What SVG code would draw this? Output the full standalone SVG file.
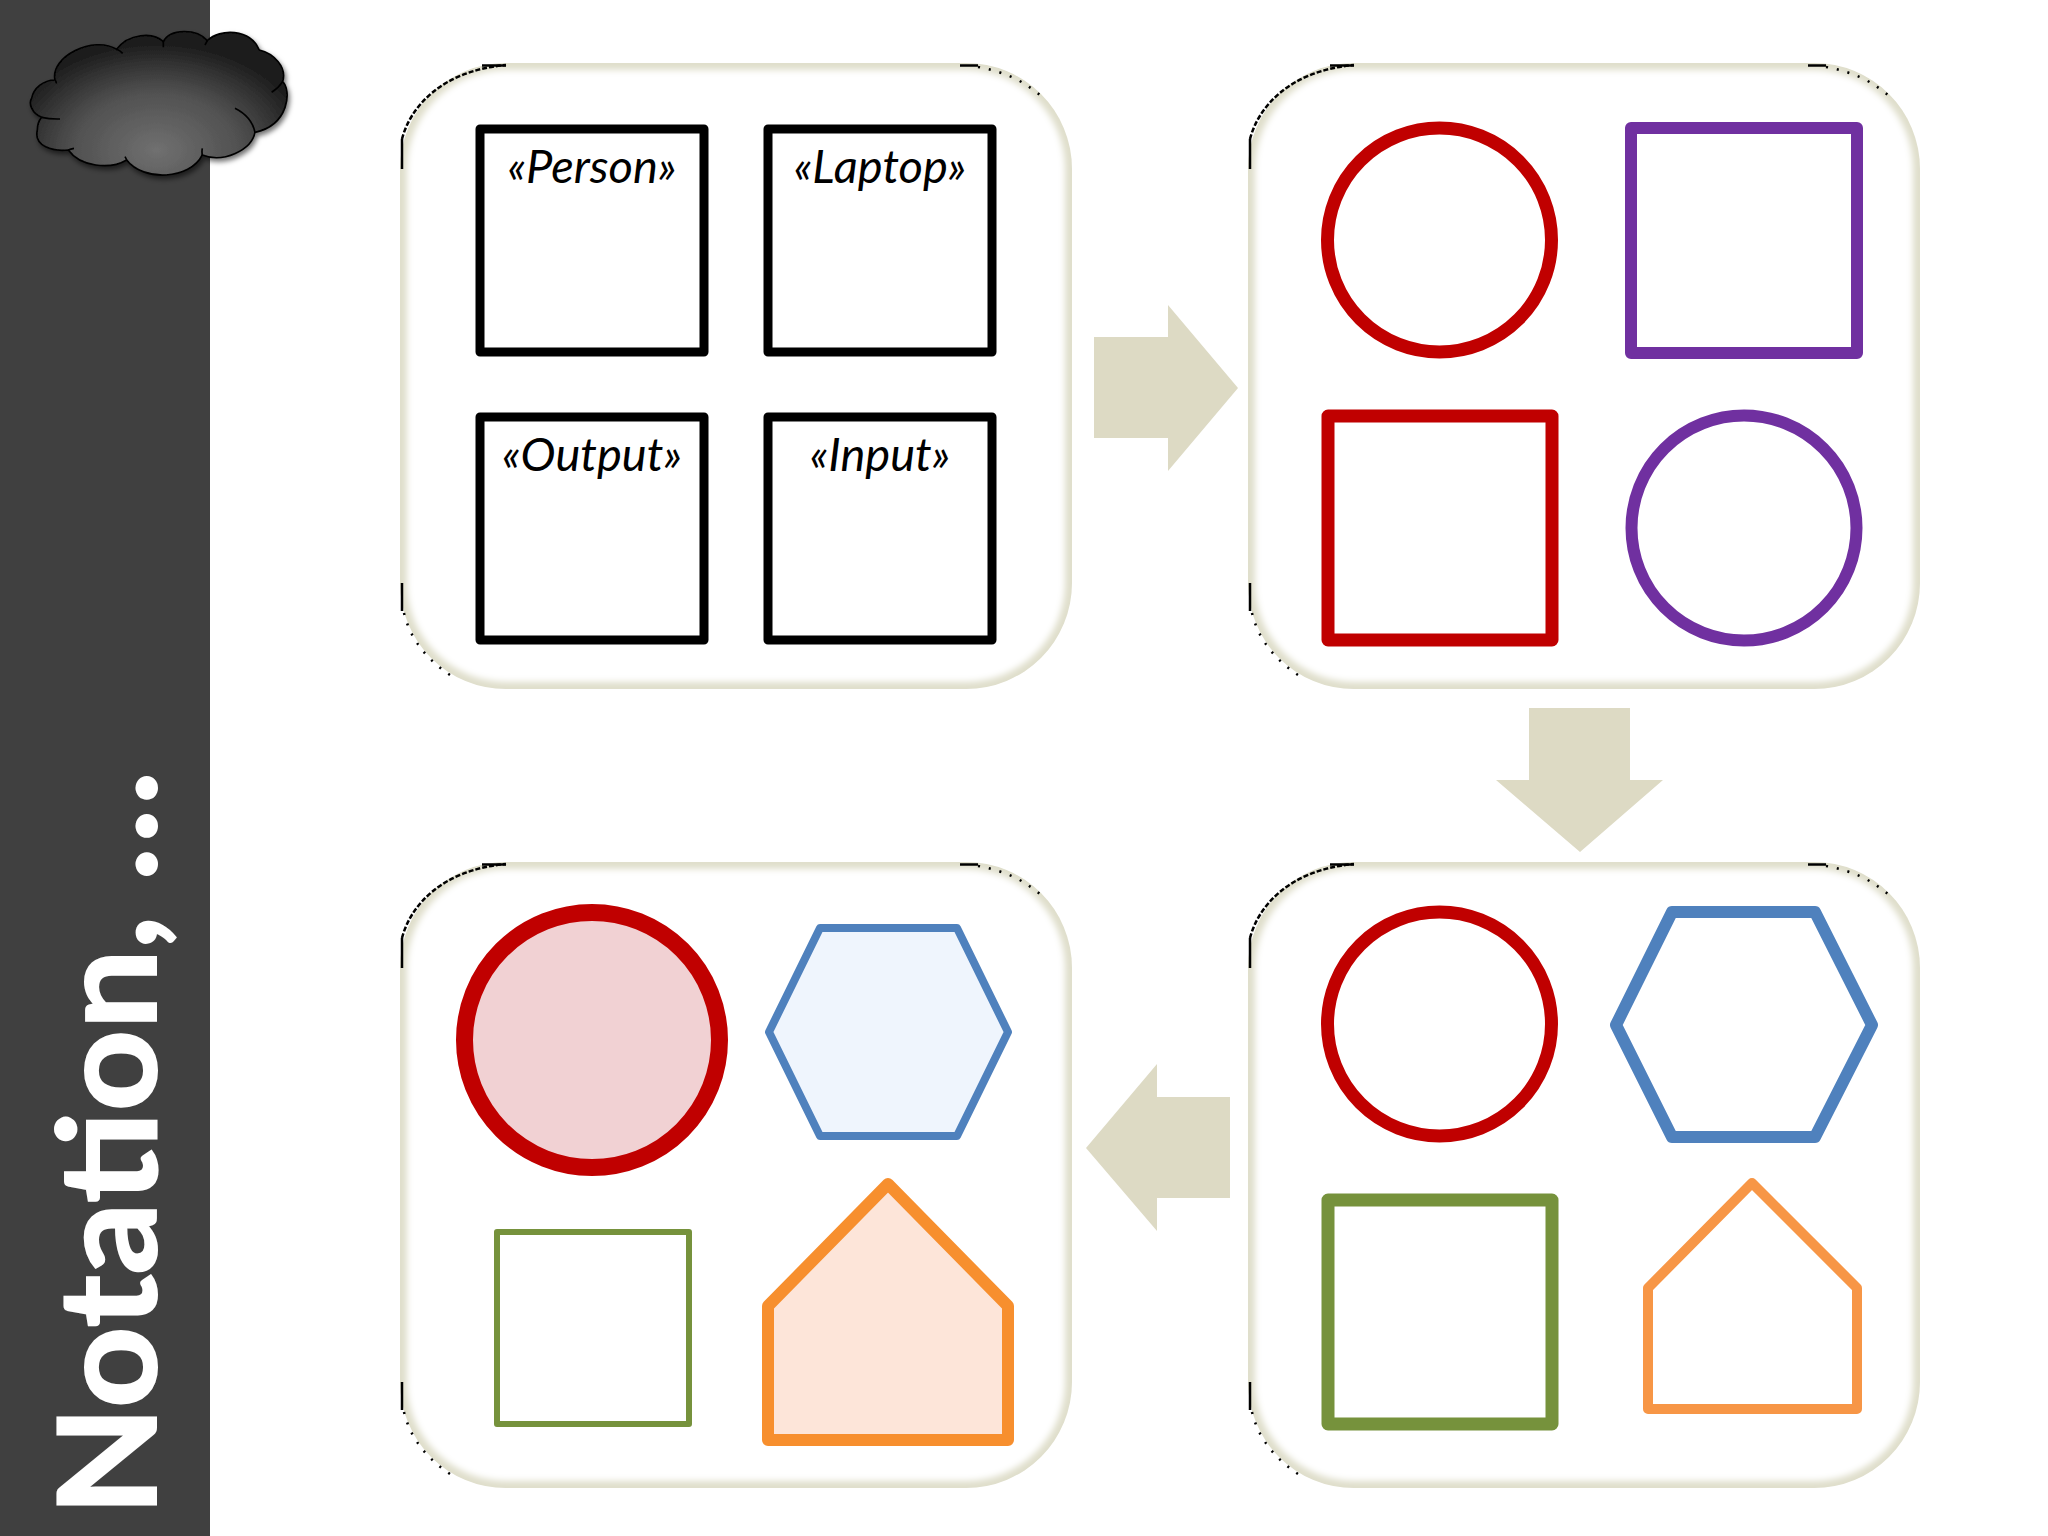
<svg xmlns="http://www.w3.org/2000/svg" xmlns:xlink="http://www.w3.org/1999/xlink" width="2048" height="1536" viewBox="0 0 2048 1536">
<style>
.edge{fill:#dfdecb}
.in{fill:#fff;filter:url(#soft)}
.art{fill:none;stroke:#000;stroke-width:2.5}
.s{stroke-linejoin:round}
.n{fill:none}
.k{stroke:#000;stroke-width:9;fill:#fff}
.r{stroke:#c00000;stroke-width:13}
.p{stroke:#7030a0;stroke-width:12}
.b{stroke:#4f81bd}
.g{stroke:#76923c}
.o{stroke:#f79646}
.arrow{fill:#dddac4}
.lab{font-family:"Lato","Liberation Sans",sans-serif;font-style:italic;font-size:47px;text-anchor:middle;fill:#000}
</style>
<defs>
<filter id="soft" x="-5%" y="-5%" width="110%" height="110%"><feGaussianBlur stdDeviation="3"/></filter>
<filter id="sh" x="-20%" y="-20%" width="140%" height="150%"><feDropShadow dx="6" dy="10" stdDeviation="8" flood-color="#000" flood-opacity="0.55"/></filter>
<radialGradient id="cg" gradientUnits="userSpaceOnUse" cx="470" cy="450" r="460" gradientTransform="translate(0 135) scale(1 .7)"><stop offset="0" stop-color="#707070"/><stop offset=".55" stop-color="#505050"/><stop offset="1" stop-color="#1c1c1c"/></radialGradient>
<g id="panel">
<rect class="edge" x="0" y="0" width="672" height="626" rx="106" ry="106"/>
<rect class="in" x="7" y="7" width="658" height="612" rx="99" ry="99"/>
<path class="art" d="M2 106V76"/>
<path class="art" stroke-dasharray="5 2" d="M2 76C10 45 40 8 106 2"/>
<path class="art" d="M82 2.500H106"/>
<path class="art" d="M560 2.500H578"/>
<path class="art" stroke-dasharray="2 9" d="M578 4C610 10 625 20 640 32"/>
<path class="art" d="M2 520V548"/>
<path class="art" stroke-dasharray="2 9" d="M4 550C10 575 25 595 50 612"/>
</g>
</defs>
<rect width="2048" height="1536" fill="#fff"/>
<rect id="sidebar" x="0" y="0" width="210" height="1536" fill="#404040"/>
<text id="title" transform="translate(156 1516) rotate(-90)" font-family="Lato,'Liberation Sans',sans-serif" font-weight="700" font-size="136" fill="#fff" stroke="#fff" stroke-width="2" textLength="745" lengthAdjust="spacingAndGlyphs">Notation, …</text>
<g id="cloud" transform="scale(.3333)">
<path filter="url(#sh)" fill="url(#cg)" stroke="#000" stroke-width="5" d="M165 240C150 170 280 105 350 148C385 100 460 95 490 125C510 85 590 85 622 122C660 85 750 85 778 150C820 160 862 200 848 245C875 270 868 375 765 397C755 450 670 490 607 465C570 540 430 545 380 480C330 510 240 500 205 450C160 455 100 440 112 390C112 375 118 360 125 352C95 340 85 310 95 295C100 265 130 240 165 240Z"/>
<path fill="none" stroke="#000" stroke-width="5" d="M165 240Q170 245 168 250M350 148Q360 152 368 160M490 125V142M622 122L615 135M848 245Q835 265 815 277M705 325Q755 350 765 397M607 465Q605 455 607 445M380 480Q378 475 375 470M205 450Q212 447 222 445M125 352Q150 358 180 357"/>
</g>
<g id="connectors">
<path class="arrow" d="M1094 337H1168V305L1238 388L1168 471V438H1094Z"/>
<path class="arrow" d="M1529 708H1630V780H1663L1580 852L1496 780H1529Z"/>
<path class="arrow" d="M1230 1097H1157V1064L1086 1148L1157 1231V1198H1230Z"/>
</g>
<g id="panel-tl">
<use href="#panel" x="400" y="63"/>
<g id="person"><rect class="s k" x="480" y="129" width="224" height="223"/><text class="lab" x="592" y="183">«Person»</text></g>
<g id="laptop"><rect class="s k" x="768" y="129" width="224" height="223"/><text class="lab" x="880" y="183">«Laptop»</text></g>
<g id="output"><rect class="s k" x="480" y="417" width="224" height="223"/><text class="lab" x="592" y="471">«Output»</text></g>
<g id="input"><rect class="s k" x="768" y="417" width="224" height="223"/><text class="lab" x="880" y="471">«Input»</text></g>
</g>
<g id="panel-tr">
<use href="#panel" x="1248" y="63"/>
<circle id="tr-circle-red" class="s n r" cx="1439.500" cy="240" r="112"/>
<rect id="tr-rect-purple" class="s n p" x="1631" y="128" width="226" height="225"/>
<rect id="tr-rect-red" class="s n r" x="1328" y="416" width="224" height="224"/>
<circle id="tr-circle-purple" class="s n p" cx="1744" cy="528" r="112.500"/>
</g>
<g id="panel-br">
<use href="#panel" x="1248" y="862"/>
<circle id="br-circle" class="s n r" cx="1439.500" cy="1024" r="112"/>
<path id="br-hex" class="s n b" stroke-width="12" d="M1616 1025L1672 912H1815L1872 1025L1815 1137H1672Z"/>
<rect id="br-rect" class="s n g" stroke-width="13" x="1328" y="1200" width="224" height="224"/>
<path id="br-house" class="s n o" stroke-width="10" d="M1648 1288L1752 1183L1857 1288V1409H1648Z"/>
</g>
<g id="panel-bl">
<use href="#panel" x="400" y="862"/>
<circle id="bl-circle" class="s" cx="592" cy="1040" r="127.500" fill="#f1d1d3" stroke="#c00000" stroke-width="17"/>
<path id="bl-hex" class="s b" fill="#eff5fd" stroke-width="8" d="M769 1032L820 928H957L1008 1032L957 1136H820Z"/>
<rect id="bl-rect" class="s g" fill="#fff" stroke-width="6" x="497" y="1232" width="192" height="192"/>
<path id="bl-house" class="s" fill="#fde5d9" stroke="#f78f2e" stroke-width="12" d="M768 1306L888 1184L1008 1306V1440H768Z"/>
</g>
</svg>
